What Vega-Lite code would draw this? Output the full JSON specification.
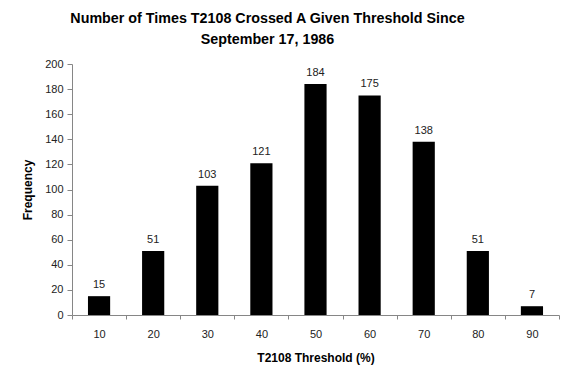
{
  "$schema": "https://vega.github.io/schema/vega-lite/v6.json",
  "autosize": "none",
  "width": 487,
  "height": 251,
  "padding": {"left": 72, "top": 64, "right": 15, "bottom": 65},
  "background": "white",
  "config": {
    "font": "Liberation Sans",
    "view": {"stroke": null}
  },
  "title": {
    "text": ["Number of Times T2108 Crossed A Given Threshold Since", "September 17, 1986"],
    "fontSize": 14.3,
    "fontWeight": "bold",
    "color": "black",
    "anchor": "middle",
    "dx": -48,
    "offset": 11,
    "lineHeight": 21
  },
  "data": {
    "values": [
      {"threshold": "10", "frequency": 15},
      {"threshold": "20", "frequency": 51},
      {"threshold": "30", "frequency": 103},
      {"threshold": "40", "frequency": 121},
      {"threshold": "50", "frequency": 184},
      {"threshold": "60", "frequency": 175},
      {"threshold": "70", "frequency": 138},
      {"threshold": "80", "frequency": 51},
      {"threshold": "90", "frequency": 7}
    ]
  },
  "encoding": {
    "x": {
      "field": "threshold",
      "type": "ordinal",
      "sort": null,
      "scale": {"paddingInner": 0, "paddingOuter": 0},
      "axis": {
        "title": "T2108 Threshold (%)",
        "titleFontSize": 12,
        "titleFontWeight": "bold",
        "titleColor": "black",
        "titlePadding": 13,
        "labelAngle": 0,
        "labelFontSize": 11,
        "labelColor": "#222222",
        "labelPadding": 9,
        "tickBand": "extent",
        "tickSize": 4,
        "tickColor": "#868686",
        "domainColor": "#868686"
      }
    },
    "y": {
      "field": "frequency",
      "type": "quantitative",
      "scale": {"domain": [0, 200]},
      "axis": {
        "title": "Frequency",
        "titleFontSize": 12,
        "titleFontWeight": "bold",
        "titleColor": "black",
        "titlePadding": 10,
        "values": [0, 20, 40, 60, 80, 100, 120, 140, 160, 180, 200],
        "grid": false,
        "labelFontSize": 11,
        "labelColor": "#222222",
        "labelPadding": 4,
        "tickSize": 5,
        "tickColor": "#868686",
        "domainColor": "#868686"
      }
    }
  },
  "layer": [
    {
      "mark": {"type": "bar", "color": "black", "width": {"band": 0.41}}
    },
    {
      "mark": {"type": "text", "baseline": "bottom", "dy": -6, "fontSize": 11, "color": "#222222"},
      "encoding": {"text": {"field": "frequency", "type": "quantitative"}}
    }
  ]
}
